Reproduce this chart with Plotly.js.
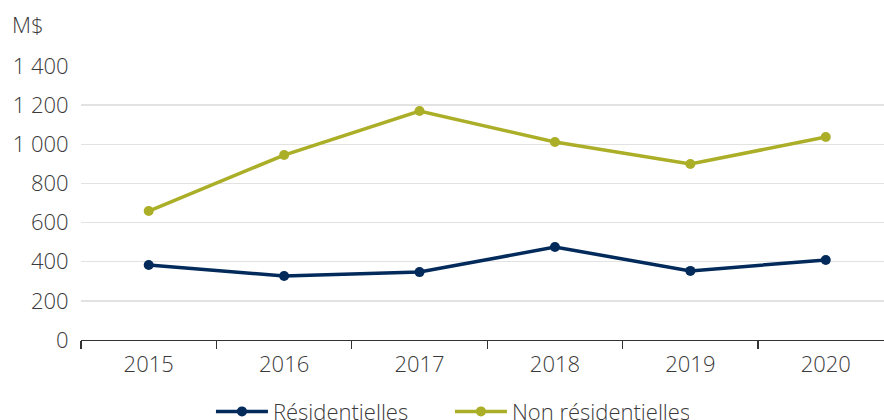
<!DOCTYPE html>
<html>
<head>
<meta charset="utf-8">
<script src="https://cdn.plot.ly/plotly-3.0.1.min.js"></script>
<style>html,body{margin:0;padding:0;background:#fff;}#chart{width:884px;height:420px;}</style>
</head>
<body>
<div id="chart"></div>
<script>
const years = ['2015', '2016', '2017', '2018', '2019', '2020'];
const residentielles = [383, 327, 347, 475, 353, 409];
const nonResidentielles = [659, 945, 1170, 1012, 899, 1037];
const seriesNames = ['Résidentielles', 'Non résidentielles'];
const yTicks = [0, 200, 400, 600, 800, 1000, 1200, 1400];

const navy = '#022a5a';
const olive = '#abae27';
const font = {family: '"Open Sans", sans-serif', size: 22, color: '#3a3a3a', weight: 300};

const traces = [
  {x: years, y: residentielles, name: seriesNames[0], type: 'scatter', mode: 'lines+markers',
   line: {color: navy, width: 3.5}, marker: {color: navy, size: 10}},
  {x: years, y: nonResidentielles, name: seriesNames[1], type: 'scatter', mode: 'lines+markers',
   line: {color: olive, width: 3.5}, marker: {color: olive, size: 10}}
];

const layout = {
  width: 884, height: 420,
  margin: {l: 81, r: 0, t: 66, b: 80},
  paper_bgcolor: '#fff', plot_bgcolor: '#fff',
  font: font,
  separators: ', ',
  showlegend: true,
  legend: {orientation: 'h', xref: 'container', yref: 'container', x: 0.509, xanchor: 'center',
           y: 0.02, yanchor: 'middle', font: font, itemwidth: 52, tracegroupgap: 0,
           entrywidth: 172, entrywidthmode: 'pixels'},
  xaxis: {type: 'category', range: [-0.5, 5.43], tickson: 'boundaries', ticks: 'outside', ticklen: 8,
          tickcolor: '#333', tickwidth: 1.2, showline: true, linecolor: '#333', linewidth: 1.2,
          showgrid: false, tickfont: font, ticklabelstandoff: 4, fixedrange: true},
  yaxis: {range: [0, 1400], tickvals: yTicks, separatethousands: true, tickformat: ',d',
          showgrid: true, gridcolor: '#e2e2e2', gridwidth: 1.5, zeroline: false, showline: false,
          ticks: 'outside', ticklen: 7, tickcolor: 'rgba(0,0,0,0)', tickfont: font},
  annotations: [{text: 'M$', xref: 'paper', yref: 'paper', x: 0, y: 1, xanchor: 'left', yanchor: 'bottom',
                 xshift: -71, yshift: 25, showarrow: false, font: font}]
};

Plotly.newPlot('chart', traces, layout, {displayModeBar: false, staticPlot: true});
</script>
</body>
</html>
